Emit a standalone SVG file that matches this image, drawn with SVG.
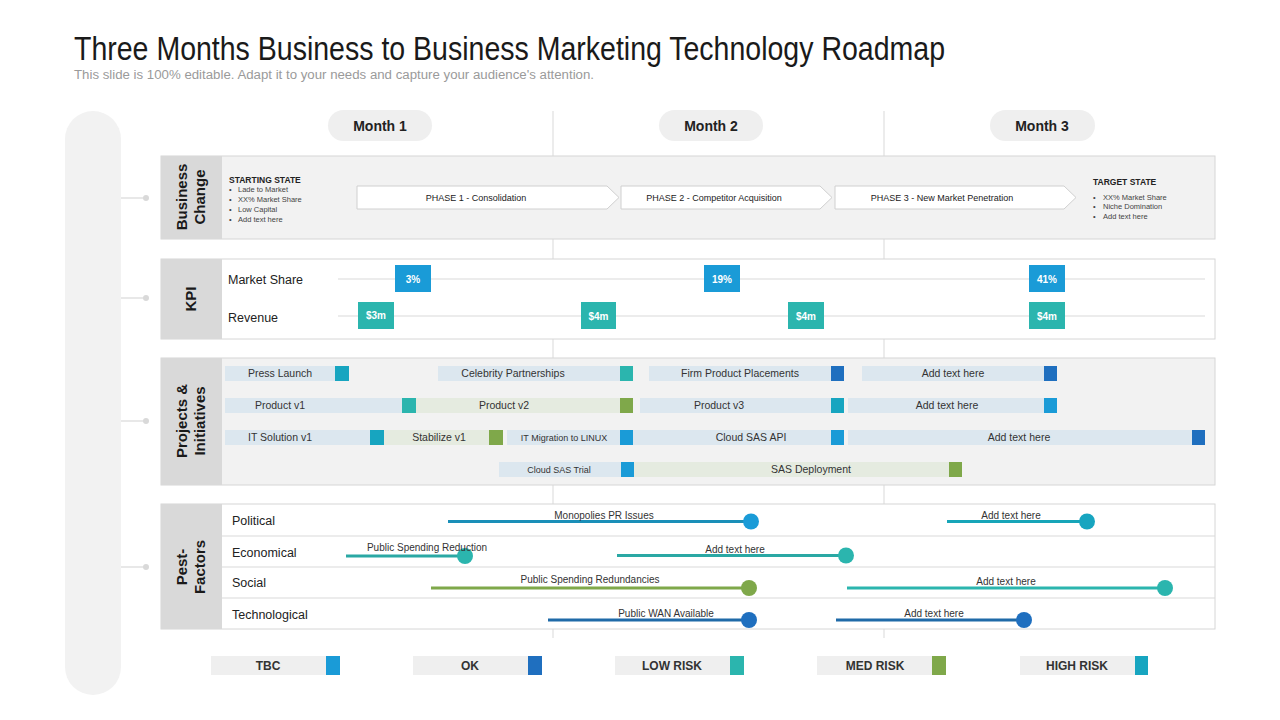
<svg xmlns="http://www.w3.org/2000/svg" width="1280" height="720" viewBox="0 0 1280 720">
<style>
text{font-family:"Liberation Sans",Arial,sans-serif;}
.title{font-size:33px;fill:#1a1a1a;}
.sub{font-size:12px;fill:#9a9a9a;}
.month{font-size:14px;font-weight:bold;fill:#222;}
.pill{fill:#efefef;}
.div{stroke:#d9d9d9;stroke-width:1;}
.lab{fill:#d9d9d9;}
.labt{font-size:15px;font-weight:bold;fill:#1a1a1a;}
.grey{fill:#f2f2f2;stroke:#d6d6d6;stroke-width:1;}
.white{fill:#fff;stroke:#d6d6d6;stroke-width:1;}
.st{font-size:8.5px;font-weight:bold;fill:#222;}
.bul{font-size:7.5px;fill:#444;}
.phase{fill:#fff;stroke:#d0d0d0;stroke-width:1;}
.pht{font-size:9px;fill:#222;text-anchor:middle;}
.kpil{font-size:12.5px;fill:#222;}
.kline{stroke:#d9d9d9;stroke-width:1;}
.kb{fill:#1a9bd7;}
.kt{fill:#2bb5ae;}
.kv{font-size:10px;font-weight:bold;fill:#fff;text-anchor:middle;}
.bb{fill:#dce7ef;}
.bg{fill:#e5ebe0;}
.bt{font-size:10.5px;fill:#333;text-anchor:middle;}
.bts{font-size:9px;fill:#333;text-anchor:middle;}
.c1{fill:#1a9bd7;}
.c2{fill:#1f6fbf;}
.c3{fill:#2bb5ae;}
.c4{fill:#7fa84a;}
.c5{fill:#17a5c0;}
.pl{font-size:12.5px;fill:#222;}
.pt{font-size:10px;fill:#333;text-anchor:middle;}
.rowl{stroke:#d9d9d9;stroke-width:1;}
.lg{fill:#efefef;}
.lgt{font-size:12px;font-weight:bold;fill:#333;text-anchor:middle;}
</style>
<rect width="1280" height="720" fill="#fff"/>
<text class="title" x="74" y="60" textLength="871" lengthAdjust="spacingAndGlyphs">Three Months Business to Business Marketing Technology Roadmap</text>
<text class="sub" x="74" y="79" textLength="520" lengthAdjust="spacingAndGlyphs">This slide is 100% editable. Adapt it to your needs and capture your audience's attention.</text>

<g id="spine">
<rect x="65" y="111" width="56" height="584" rx="28" fill="#f2f2f2"/>
</g>

<g id="grid">
<line class="div" x1="553" y1="111" x2="553" y2="638"/>
<line class="div" x1="884" y1="111" x2="884" y2="638"/>
</g>

<g id="months">
<rect class="pill" x="328" y="110" width="104" height="31" rx="15.5"/>
<text class="month" x="380" y="131" text-anchor="middle">Month 1</text>
<rect class="pill" x="659" y="110" width="104" height="31" rx="15.5"/>
<text class="month" x="711" y="131" text-anchor="middle">Month 2</text>
<rect class="pill" x="990" y="110" width="105" height="31" rx="15.5"/>
<text class="month" x="1042" y="131" text-anchor="middle">Month 3</text>
</g>

<g id="connectors" stroke="#d9d9d9" stroke-width="1.2" fill="#d9d9d9">
<line x1="121" y1="198" x2="145" y2="198"/><circle cx="146" cy="198" r="3" stroke="none"/>
<line x1="121" y1="298" x2="145" y2="298"/><circle cx="146" cy="298" r="3" stroke="none"/>
<line x1="121" y1="421" x2="145" y2="421"/><circle cx="146" cy="421" r="3" stroke="none"/>
<line x1="121" y1="567" x2="145" y2="567"/><circle cx="146" cy="567" r="3" stroke="none"/>
</g>

<g id="business-change">
<rect class="grey" x="161" y="156" width="1054" height="83"/>
<rect class="lab" x="161" y="156" width="61" height="83"/>
<text class="labt" transform="translate(191,197) rotate(-90)" text-anchor="middle"><tspan x="0" y="-4">Business</tspan><tspan x="0" y="14">Change</tspan></text>
<text class="st" x="229" y="183">STARTING  STATE</text>
<text class="bul" x="229" y="192">•</text><text class="bul" x="238" y="192">Lade to Market</text>
<text class="bul" x="229" y="202">•</text><text class="bul" x="238" y="202">XX% Market Share</text>
<text class="bul" x="229" y="212">•</text><text class="bul" x="238" y="212">Low Capital</text>
<text class="bul" x="229" y="222">•</text><text class="bul" x="238" y="222">Add text here</text>
<polygon class="phase" points="357,186 607,186 619,197.5 607,209 357,209"/>
<text class="pht" x="476" y="201">PHASE 1 - Consolidation</text>
<polygon class="phase" points="621,186 820,186 832,197.5 820,209 621,209"/>
<text class="pht" x="714" y="201">PHASE 2 - Competitor Acquisition</text>
<polygon class="phase" points="835,186 1064,186 1076,197.5 1064,209 835,209"/>
<text class="pht" x="942" y="201">PHASE 3 - New Market Penetration</text>
<text class="st" x="1093" y="185">TARGET   STATE</text>
<text class="bul" x="1093" y="200">•</text><text class="bul" x="1103" y="200">XX% Market Share</text>
<text class="bul" x="1093" y="209">•</text><text class="bul" x="1103" y="209">Niche Domination</text>
<text class="bul" x="1093" y="219">•</text><text class="bul" x="1103" y="219">Add text here</text>
</g>

<g id="kpi">
<rect class="white" x="161" y="259" width="1054" height="80"/>
<rect class="lab" x="161" y="259" width="61" height="80"/>
<text class="labt" transform="translate(191,299) rotate(-90)" text-anchor="middle"><tspan x="0" y="5">KPI</tspan></text>
<text class="kpil" x="228" y="284">Market Share</text>
<text class="kpil" x="228" y="322">Revenue</text>
<line class="kline" x1="338" y1="279" x2="1205" y2="279"/>
<line class="kline" x1="338" y1="316" x2="1205" y2="316"/>
<rect class="kb" x="395" y="265" width="36" height="27"/><text class="kv" x="413" y="283">3%</text>
<rect class="kb" x="704" y="265" width="36" height="27"/><text class="kv" x="722" y="283">19%</text>
<rect class="kb" x="1029" y="265" width="36" height="27"/><text class="kv" x="1047" y="283">41%</text>
<rect class="kt" x="358" y="302" width="36" height="27"/><text class="kv" x="376" y="319" font-size="9">$3m</text>
<rect class="kt" x="581" y="302" width="35" height="27"/><text class="kv" x="598.5" y="320">$4m</text>
<rect class="kt" x="788" y="302" width="36" height="27"/><text class="kv" x="806" y="320">$4m</text>
<rect class="kt" x="1029" y="302" width="36" height="27"/><text class="kv" x="1047" y="320">$4m</text>
</g>

<g id="projects">
<rect class="grey" x="161" y="358" width="1054" height="127"/>
<rect class="lab" x="161" y="358" width="61" height="127"/>
<text class="labt" transform="translate(191,421) rotate(-90)" text-anchor="middle"><tspan x="0" y="-4">Projects &amp;</tspan><tspan x="0" y="14">Initiatives</tspan></text>
<rect class="bb" x="225" y="366" width="110" height="15"/><rect class="c5" x="335" y="366" width="14" height="15"/><text class="bt" x="280" y="377">Press Launch</text>
<rect class="bb" x="438" y="366" width="182" height="15"/><rect class="c3" x="620" y="366" width="13" height="15"/><text class="bt" x="513" y="377">Celebrity Partnerships</text>
<rect class="bb" x="649" y="366" width="182" height="15"/><rect class="c2" x="831" y="366" width="13" height="15"/><text class="bt" x="740" y="377">Firm Product Placements</text>
<rect class="bb" x="862" y="366" width="182" height="15"/><rect class="c2" x="1044" y="366" width="13" height="15"/><text class="bt" x="953" y="377">Add text here</text>
<rect class="bb" x="225" y="398" width="177" height="15"/><rect class="c3" x="402" y="398" width="14" height="15"/><text class="bt" x="280" y="409">Product v1</text>
<rect class="bg" x="416" y="398" width="204" height="15"/><rect class="c4" x="620" y="398" width="13" height="15"/><text class="bt" x="504" y="409">Product v2</text>
<rect class="bb" x="640" y="398" width="191" height="15"/><rect class="c5" x="831" y="398" width="13" height="15"/><text class="bt" x="719" y="409">Product v3</text>
<rect class="bb" x="848" y="398" width="196" height="15"/><rect class="c1" x="1044" y="398" width="13" height="15"/><text class="bt" x="947" y="409">Add text here</text>
<rect class="bb" x="225" y="430" width="145" height="15"/><rect class="c5" x="370" y="430" width="14" height="15"/><text class="bt" x="280" y="441">IT Solution v1</text>
<rect class="bg" x="384" y="430" width="105" height="15"/><rect class="c4" x="489" y="430" width="14" height="15"/><text class="bt" x="439" y="441">Stabilize v1</text>
<rect class="bb" x="507" y="430" width="113" height="15"/><rect class="c1" x="620" y="430" width="13" height="15"/><text class="bts" x="564" y="441">IT Migration  to LINUX</text>
<rect class="bb" x="633" y="430" width="198" height="15"/><rect class="c1" x="831" y="430" width="13" height="15"/><text class="bt" x="751" y="441">Cloud  SAS API</text>
<rect class="bb" x="848" y="430" width="344" height="15"/><rect class="c2" x="1192" y="430" width="13" height="15"/><text class="bt" x="1019" y="441">Add text here</text>
<rect class="bb" x="499" y="462" width="122" height="15"/><rect class="c1" x="621" y="462" width="13" height="15"/><text class="bts" x="559" y="473">Cloud SAS Trial</text>
<rect class="bg" x="634" y="462" width="315" height="15"/><rect class="c4" x="949" y="462" width="13" height="15"/><text class="bt" x="811" y="473">SAS Deployment</text>
</g>

<g id="pest">
<rect class="white" x="161" y="504" width="1054" height="125"/>
<rect class="lab" x="161" y="504" width="61" height="125"/>
<text class="labt" transform="translate(191,567) rotate(-90)" text-anchor="middle"><tspan x="0" y="-4">Pest-</tspan><tspan x="0" y="14">Factors</tspan></text>
<line class="rowl" x1="222" y1="536" x2="1215" y2="536"/>
<line class="rowl" x1="222" y1="567" x2="1215" y2="567"/>
<line class="rowl" x1="222" y1="598" x2="1215" y2="598"/>
<text class="pl" x="232" y="525">Political</text>
<text class="pl" x="232" y="557">Economical</text>
<text class="pl" x="232" y="587">Social</text>
<text class="pl" x="232" y="619">Technological</text>
<line x1="448" y1="521.5" x2="751" y2="521.5" stroke="#1a8fb8" stroke-width="3"/><circle class="c1" cx="751" cy="521.5" r="8"/><text class="pt" x="604" y="519">Monopolies PR  Issues</text>
<line x1="947" y1="521.5" x2="1087" y2="521.5" stroke="#17a5b8" stroke-width="3"/><circle class="c5" cx="1087" cy="521.5" r="8"/><text class="pt" x="1011" y="519">Add text here</text>
<line x1="346" y1="556" x2="465" y2="556" stroke="#2aa8a4" stroke-width="3"/><circle class="c3" cx="465" cy="556" r="8"/><text class="pt" x="427" y="551">Public Spending Reduction</text>
<line x1="617" y1="555.5" x2="846" y2="555.5" stroke="#2aa8a4" stroke-width="3"/><circle class="c3" cx="846" cy="555.5" r="8"/><text class="pt" x="735" y="553">Add text here</text>
<line x1="431" y1="588" x2="749" y2="588" stroke="#7fa84a" stroke-width="3"/><circle class="c4" cx="749" cy="588" r="8"/><text class="pt" x="590" y="583">Public Spending Redundancies</text>
<line x1="847" y1="588" x2="1165" y2="588" stroke="#2bb5ae" stroke-width="3"/><circle class="c3" cx="1165" cy="588" r="8"/><text class="pt" x="1006" y="585">Add text here</text>
<line x1="548" y1="620" x2="749" y2="620" stroke="#1f6aa8" stroke-width="3"/><circle class="c2" cx="749" cy="620" r="8"/><text class="pt" x="666" y="617">Public WAN Available</text>
<line x1="836" y1="620" x2="1024" y2="620" stroke="#1f6aa8" stroke-width="3"/><circle class="c2" cx="1024" cy="620" r="8"/><text class="pt" x="934" y="617">Add text here</text>
</g>

<g id="legend">
<rect class="lg" x="211" y="656" width="115" height="19"/><rect class="c1" x="326" y="656" width="14" height="19"/><text class="lgt" x="268" y="670">TBC</text>
<rect class="lg" x="413" y="656" width="115" height="19"/><rect class="c2" x="528" y="656" width="14" height="19"/><text class="lgt" x="470" y="670">OK</text>
<rect class="lg" x="615" y="656" width="115" height="19"/><rect class="c3" x="730" y="656" width="14" height="19"/><text class="lgt" x="672" y="670">LOW RISK</text>
<rect class="lg" x="817" y="656" width="115" height="19"/><rect class="c4" x="932" y="656" width="14" height="19"/><text class="lgt" x="875" y="670">MED RISK</text>
<rect class="lg" x="1020" y="656" width="115" height="19"/><rect class="c5" x="1135" y="656" width="13" height="19"/><text class="lgt" x="1077" y="670">HIGH RISK</text>
</g>
</svg>
